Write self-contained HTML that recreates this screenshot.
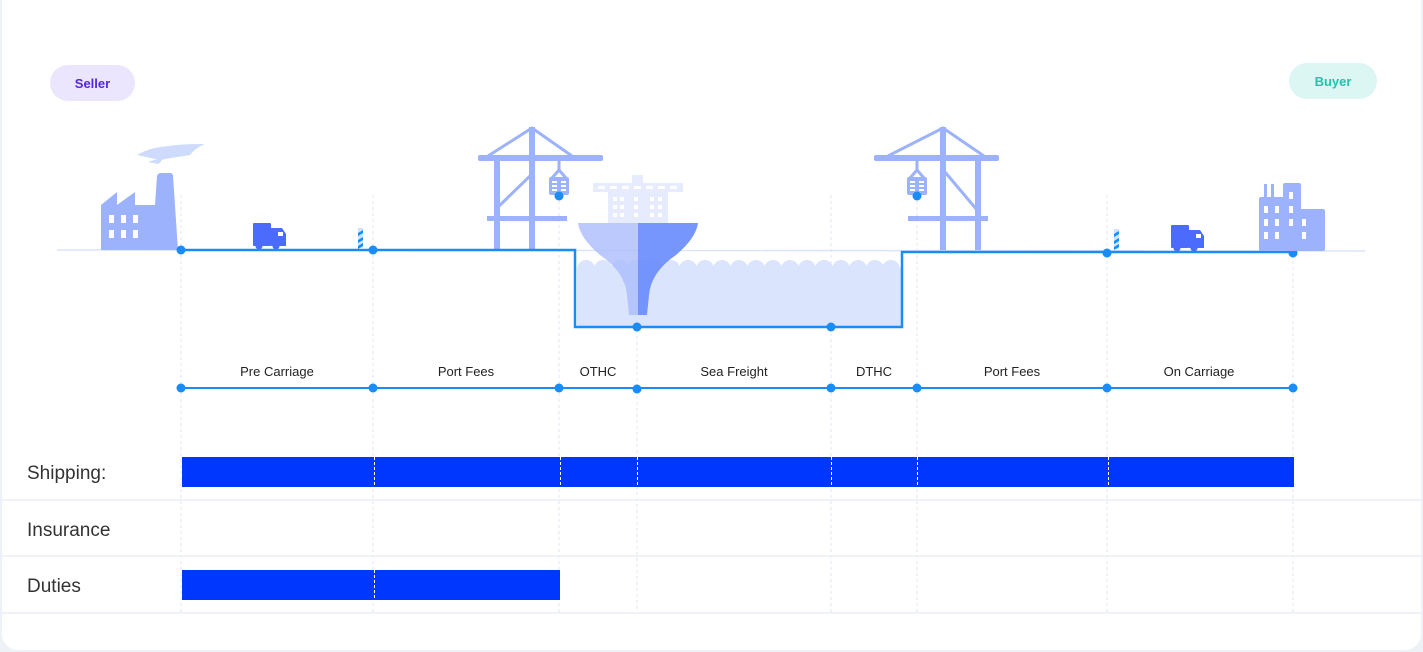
<!DOCTYPE html>
<html><head><meta charset="utf-8"><style>
html,body{margin:0;padding:0;background:#eef1f6;}
body{width:1423px;height:652px;overflow:hidden;position:relative;font-family:"Liberation Sans",sans-serif;}
.card{position:absolute;left:2px;top:-20px;width:1419px;height:670px;background:#fff;border-radius:16px;}
</style></head><body>
<div class="card"></div>
<svg width="1423" height="652" style="position:absolute;left:0;top:0" xmlns="http://www.w3.org/2000/svg">
<!-- pills -->
<rect x="50" y="65" width="85" height="36" rx="18" fill="#ebe5fd"/>
<text x="92.5" y="88" text-anchor="middle" font-size="13" font-weight="bold" fill="#5326e0">Seller</text>
<rect x="1289" y="63" width="88" height="36" rx="18" fill="#dcf6f3"/>
<text x="1333" y="86" text-anchor="middle" font-size="13" font-weight="bold" fill="#25c2ad">Buyer</text>

<!-- vertical dashed guides -->
<g stroke="#dfe6f3" stroke-width="1" stroke-dasharray="3,3">
<line x1="181" y1="195" x2="181" y2="612"/><line x1="373" y1="195" x2="373" y2="612"/>
<line x1="559" y1="195" x2="559" y2="612"/><line x1="637" y1="300" x2="637" y2="612"/>
<line x1="831" y1="195" x2="831" y2="612"/><line x1="917" y1="195" x2="917" y2="612"/>
<line x1="1107" y1="195" x2="1107" y2="612"/><line x1="1293" y1="195" x2="1293" y2="612"/>
</g>
<line x1="57" y1="250" x2="1365" y2="251" stroke="#dbe4fb" stroke-width="1.5"/>

<!-- factory left -->
<g fill="#9db2fd">
<path d="M101 205 L117 192 V205 L135 192 V205 L144 205 V250 L101 250 Z"/>
<path d="M136 250 L133 205 L155 205 L157 176 Q158 173 161 173 L170 173 Q173 173 173 176 L178 250 Z"/>
</g>
<path d="M137 155 Q150 147 170 146 Q180 144 205 144 Q195 148 190 155 Q170 158 160 160 Z" fill="#cfdbfd"/>
<path d="M148 162 Q155 159 163 159 Q160 163 158 164 Z" fill="#cfdbfd"/>
<g fill="#fff"><rect x="109" y="215" width="5" height="8"/><rect x="121" y="215" width="5" height="8"/><rect x="133" y="215" width="5" height="8"/><rect x="109" y="230" width="5" height="8"/><rect x="121" y="230" width="5" height="8"/><rect x="133" y="230" width="5" height="8"/></g>

<!-- trucks -->
<g fill="#4a6bfc">
<rect x="253" y="223" width="18" height="23" rx="1"/><path d="M271 228 H282 L286 234 V246 H271 Z"/>
<circle cx="259" cy="246" r="3.5"/><circle cx="276" cy="246" r="3.5"/>
<rect x="1171" y="225" width="18" height="23" rx="1"/><path d="M1189 230 H1200 L1204 236 V248 H1189 Z"/>
<circle cx="1177" cy="248" r="3.5"/><circle cx="1194" cy="248" r="3.5"/>
</g>
<rect x="278" y="232" width="5" height="4" fill="#fff"/><rect x="1196" y="234" width="5" height="4" fill="#fff"/>
<!-- posts -->
<g><rect x="358" y="228" width="5" height="20" fill="#cfe1fb"/><path d="M358 233 l5 -3 v3 l-5 3z M358 240 l5 -3 v3 l-5 3z M358 246 l5 -3 v3 l-5 3z" fill="#1a8cf5"/>
<rect x="1114" y="229" width="5" height="20" fill="#cfe1fb"/><path d="M1114 234 l5 -3 v3 l-5 3z M1114 241 l5 -3 v3 l-5 3z M1114 247 l5 -3 v3 l-5 3z" fill="#1a8cf5"/></g>

<!-- cranes -->
<g fill="#9db2fd" stroke="none">
<rect x="478" y="155" width="125" height="6" rx="2"/>
<rect x="494" y="160" width="6" height="90"/><rect x="529" y="127" width="6" height="123"/>
<rect x="487" y="216" width="80" height="5"/>
<rect x="874" y="155" width="125" height="6" rx="2"/>
<rect x="940" y="127" width="6" height="123"/><rect x="975" y="160" width="6" height="90"/>
<rect x="908" y="216" width="80" height="5"/>
</g>
<g stroke="#9db2fd" stroke-width="3" fill="none">
<path d="M488 156 L532 128 L572 156"/><path d="M531 175 L497 208"/>
<path d="M888 156 L943 128 L984 156"/><path d="M945 172 L977 210"/>
<path d="M559 161 V170 L552 178 M559 170 L566 178"/><path d="M917 161 V170 L910 178 M917 170 L924 178"/>
</g>
<g fill="#9db2fd"><rect x="549" y="177" width="20" height="18" rx="2"/><rect x="907" y="177" width="20" height="18" rx="2"/></g>
<g fill="#fff"><rect x="552" y="181" width="5" height="2"/><rect x="561" y="181" width="5" height="2"/><rect x="552" y="185" width="5" height="2"/><rect x="561" y="185" width="5" height="2"/><rect x="552" y="189" width="5" height="2"/><rect x="561" y="189" width="5" height="2"/>
<rect x="910" y="181" width="5" height="2"/><rect x="919" y="181" width="5" height="2"/><rect x="910" y="185" width="5" height="2"/><rect x="919" y="185" width="5" height="2"/><rect x="910" y="189" width="5" height="2"/><rect x="919" y="189" width="5" height="2"/></g>

<!-- water -->
<rect x="577" y="268" width="324" height="59" fill="#dbe4fd"/>
<g fill="#dbe4fd">
<circle cx="586" cy="269" r="9"/><circle cx="603" cy="269" r="9"/><circle cx="620" cy="269" r="9"/><circle cx="637" cy="269" r="9"/><circle cx="654" cy="269" r="9"/><circle cx="671" cy="269" r="9"/><circle cx="688" cy="269" r="9"/><circle cx="705" cy="269" r="9"/><circle cx="722" cy="269" r="9"/><circle cx="739" cy="269" r="9"/><circle cx="756" cy="269" r="9"/><circle cx="773" cy="269" r="9"/><circle cx="790" cy="269" r="9"/><circle cx="807" cy="269" r="9"/><circle cx="824" cy="269" r="9"/><circle cx="841" cy="269" r="9"/><circle cx="858" cy="269" r="9"/><circle cx="875" cy="269" r="9"/><circle cx="891" cy="269" r="9"/>
</g>
<!-- ship -->
<g fill="#e6ebfd">
<rect x="632" y="175" width="11" height="8"/><rect x="593" y="183" width="90" height="9"/><rect x="608" y="192" width="60" height="31"/>
</g>
<g fill="#fff"><rect x="598" y="186" width="7" height="3"/><rect x="610" y="186" width="7" height="3"/><rect x="622" y="186" width="7" height="3"/><rect x="634" y="186" width="7" height="3"/><rect x="646" y="186" width="7" height="3"/><rect x="658" y="186" width="7" height="3"/><rect x="670" y="186" width="7" height="3"/>
<rect x="613" y="197" width="4" height="4"/><rect x="620" y="197" width="4" height="4"/><rect x="634" y="197" width="4" height="4"/><rect x="650" y="197" width="4" height="4"/><rect x="658" y="197" width="4" height="4"/>
<rect x="613" y="205" width="4" height="4"/><rect x="620" y="205" width="4" height="4"/><rect x="634" y="205" width="4" height="4"/><rect x="650" y="205" width="4" height="4"/><rect x="658" y="205" width="4" height="4"/>
<rect x="613" y="213" width="4" height="4"/><rect x="620" y="213" width="4" height="4"/><rect x="634" y="213" width="4" height="4"/><rect x="650" y="213" width="4" height="4"/><rect x="658" y="213" width="4" height="4"/></g>
<path d="M578 223 H638 V315 H629 L627 295 Q625 272 600 255 Q580 238 578 223 Z" fill="#aabbfc" opacity="0.8"/>
<path d="M638 223 H698 Q696 238 676 255 Q651 272 649 295 L647 315 H638 Z" fill="#6f8ffd" opacity="0.95"/>

<!-- route -->
<path d="M181 250 H575 V327 H902 V252 H1293" fill="none" stroke="#1a8cf5" stroke-width="2.5"/>
<g fill="#1a8cf5">
<circle cx="181" cy="250" r="4.5"/><circle cx="373" cy="250" r="4.5"/><circle cx="559" cy="196" r="4.5"/><circle cx="637" cy="327" r="4.5"/>
<circle cx="831" cy="327" r="4.5"/><circle cx="917" cy="196" r="4.5"/><circle cx="1107" cy="253" r="4.5"/><circle cx="1293" cy="253" r="4.5"/>
</g>

<!-- building right -->
<g fill="#9db2fd">
<rect x="1259" y="197" width="27" height="54" rx="2"/><rect x="1283" y="183" width="18" height="68" rx="2"/><rect x="1295" y="209" width="30" height="42" rx="2"/>
<rect x="1264" y="184" width="3" height="14"/><rect x="1271" y="184" width="3" height="14"/>
</g>
<g fill="#fff"><rect x="1264" y="206" width="4" height="7"/><rect x="1275" y="206" width="4" height="7"/><rect x="1289" y="192" width="4" height="7"/><rect x="1289" y="206" width="4" height="7"/>
<rect x="1264" y="219" width="4" height="7"/><rect x="1275" y="219" width="4" height="7"/><rect x="1289" y="219" width="4" height="7"/><rect x="1302" y="219" width="4" height="7"/>
<rect x="1264" y="232" width="4" height="7"/><rect x="1275" y="232" width="4" height="7"/><rect x="1302" y="232" width="4" height="7"/></g>

<!-- timeline -->
<line x1="181" y1="388" x2="1293" y2="388" stroke="#1a8cf5" stroke-width="2"/>
<g fill="#1a8cf5"><circle cx="181" cy="388" r="4.5"/><circle cx="373" cy="388" r="4.5"/><circle cx="559" cy="388" r="4.5"/><circle cx="637" cy="389" r="4.5"/><circle cx="831" cy="388" r="4.5"/><circle cx="917" cy="388" r="4.5"/><circle cx="1107" cy="388" r="4.5"/><circle cx="1293" cy="388" r="4.5"/></g>
<g font-size="13" fill="#222" text-anchor="middle">
<text x="277" y="376">Pre Carriage</text><text x="466" y="376">Port Fees</text><text x="598" y="376">OTHC</text><text x="734" y="376">Sea Freight</text>
<text x="874" y="376">DTHC</text><text x="1012" y="376">Port Fees</text><text x="1199" y="376">On Carriage</text>
</g>

<!-- rows -->
<g stroke="#e6ebf2" stroke-width="1.2"><line x1="2" y1="500" x2="1421" y2="500"/><line x1="2" y1="556" x2="1421" y2="556"/><line x1="2" y1="613" x2="1421" y2="613"/></g>
<rect x="182" y="457" width="1112" height="30" fill="#0037ff"/>
<rect x="182" y="570" width="378" height="30" fill="#0037ff"/>
<g stroke="#ffffff" stroke-width="1" stroke-dasharray="3,2"><line x1="374.5" y1="457" x2="374.5" y2="487"/><line x1="560.5" y1="457" x2="560.5" y2="487"/><line x1="637.5" y1="457" x2="637.5" y2="487"/><line x1="831.5" y1="457" x2="831.5" y2="487"/><line x1="917.5" y1="457" x2="917.5" y2="487"/><line x1="1108.5" y1="457" x2="1108.5" y2="487"/><line x1="374.5" y1="570" x2="374.5" y2="600"/></g>
<g font-size="19" fill="#333"><text x="27" y="479">Shipping:</text><text x="27" y="536">Insurance</text><text x="27" y="592">Duties</text></g>
</svg>
</body></html>
